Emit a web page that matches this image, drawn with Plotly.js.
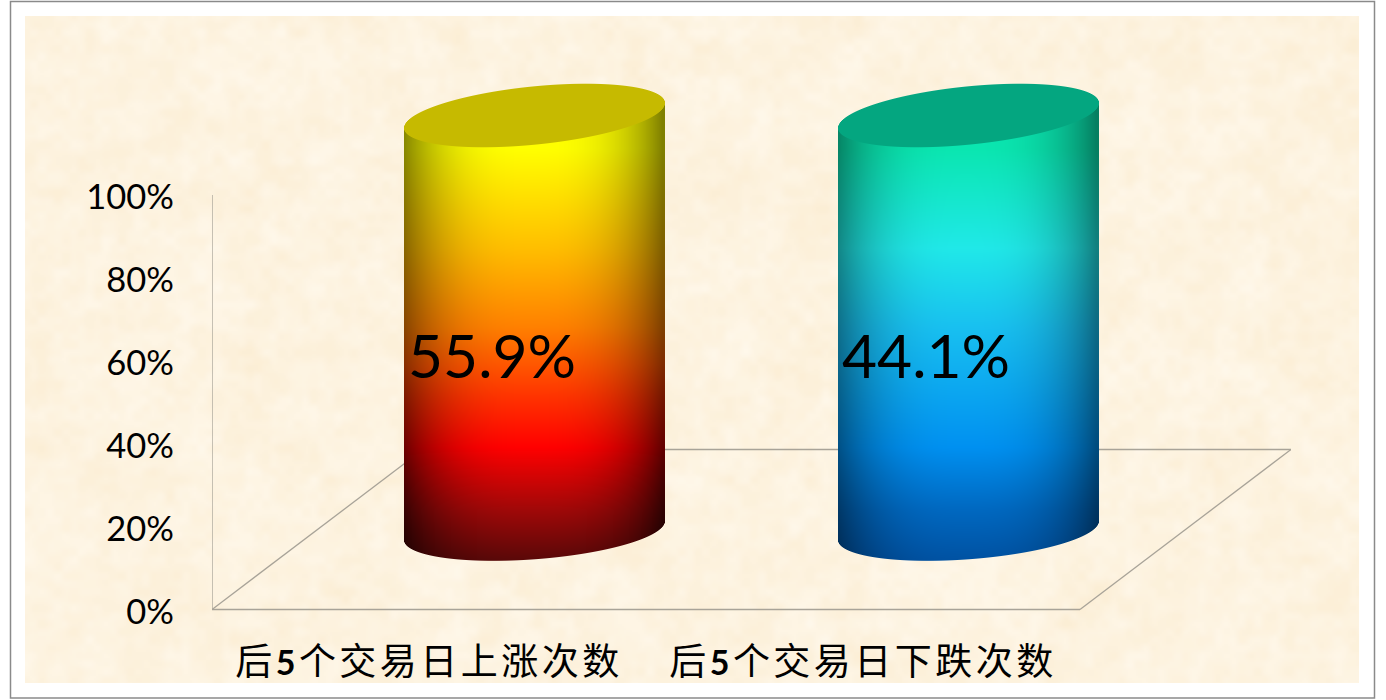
<!DOCTYPE html>
<html>
<head>
<meta charset="utf-8">
<script src="https://cdn.plot.ly/plotly-3.0.1.min.js"></script>
<style>
html,body{margin:0;padding:0;background:#fff;}
#chart{width:1386px;height:700px;}
.xtick text{letter-spacing:3.5px;}
</style>
</head>
<body>
<div id="chart"></div>
<script>
// ---- chart data ----
const categories = ['后<span style="font-weight:bold;font-size:34px">5</span>个交易日上涨次数', '后<span style="font-weight:bold;font-size:34px">5</span>个交易日下跌次数'];
const shares = [55.9, 44.1];
const cylinderHeights = [100, 100];
const valueTicks = [0, 20, 40, 60, 80, 100];

const cylinderStops = [
  [[0.08,[255,255,0]],[0.32,[255,190,0]],[0.51,[255,128,0]],[0.68,[255,50,0]],[0.80,[255,0,0]],[0.95,[160,8,8]],[1.08,[85,8,8]]],
  [[0.08,[10,230,176]],[0.32,[32,232,232]],[0.51,[24,192,240]],[0.80,[0,144,240]],[0.95,[0,104,192]],[1.08,[0,80,160]]]
];
const capColours = [[198,186,0],[4,166,128]];
const edgeDepth = [[0.5, 0.72], [0.45, 0.5]];

// ---- plot geometry ----
const W = 1386, H = 700, mL = 212, mR = 95, mB = 88;
const pxPerCat = 434, pxPerPct = 4.15;
const xRange = [-0.5, -0.5 + (W - mL - mR) / pxPerCat];
const yRange = [0, (H - mB) / pxPerPct];
const floorDepthCat = 211 / pxPerCat, floorDepthPct = 160 / pxPerPct;
const floorLevel = 0.6;
const cylOffsetCat = floorDepthCat / 2, cylBasePct = 19.64;
const cylHalfCat = 130.5 / pxPerCat;

function lerpStops(stops, w){
  if (w <= stops[0][0]) return stops[0][1];
  for (let i = 1; i < stops.length; i++){
    if (w <= stops[i][0]){
      const a = stops[i-1], b = stops[i], t = (w - a[0]) / (b[0] - a[0]);
      return a[1].map((c, k) => c + (b[1][k] - c) * t);
    }
  }
  return stops[stops.length-1][1];
}
const clamp01 = v => Math.max(0, Math.min(1, v));

function cylinderTrace(idx){
  const cxPct = idx + cylOffsetCat;
  const dxU = 1 / pxPerCat, dyU = 1 / pxPerPct;
  const a = cylHalfCat * pxPerCat;
  const basePx = (yRange[1] - cylBasePct) * pxPerPct;
  const topPx = (yRange[1] - cylBasePct - cylinderHeights[idx]) * pxPerPct;
  const cxPx = (cxPct - xRange[0]) * pxPerCat + mL;
  const x0Px = Math.floor(cxPx - a) - 1, x1Px = Math.ceil(cxPx + a) + 1;
  const y0Px = Math.floor(topPx - 36), y1Px = Math.ceil(basePx + 36);
  const z = [];
  for (let py = y1Px; py >= y0Px; py--){   // first row = lowest on screen
    const row = [];
    for (let px = x0Px; px <= x1Px; px++){
      const xc = px + 0.5, yc = py + 0.5;
      const u = (xc - cxPx) / a;
      const xAlpha = clamp01(a - Math.abs(xc - cxPx) + 0.5);
      if (xAlpha <= 0){ row.push([0,0,0,0]); continue; }
      const uc = Math.max(-1, Math.min(1, u));
      const s = Math.sqrt(1 - uc * uc);
      const capTop = topPx - 12.5 * uc - 29.2 * s;
      const capFront = topPx - 12.5 * uc + 29.2 * s;
      const bottom = basePx - 9.5 * uc + 28.8 * s;
      const alpha = xAlpha * clamp01(yc - capTop + 0.5) * clamp01(bottom - yc + 0.5);
      if (alpha <= 0){ row.push([0,0,0,0]); continue; }
      const w = (yc - topPx) / (basePx - topPx);
      const base = lerpStops(cylinderStops[idx], w);
      const uu = Math.abs(u + 0.02);
      const depth = edgeDepth[idx][0] + (edgeDepth[idx][1] - edgeDepth[idx][0]) * clamp01((w - 0.6) / 0.4);
      const f = 1 - depth * Math.pow(Math.min(1, uu), 2.8);
      const side = base.map(c => c * f);
      const capMix = clamp01(capFront - yc + 0.5);
      const col = capColours[idx].map((c, k) => Math.round(c * capMix + side[k] * (1 - capMix)));
      row.push([col[0], col[1], col[2], alpha]);
    }
    z.push(row);
  }
  return {
    type: 'image', colormodel: 'rgba', z: z,
    x0: xRange[0] + (x0Px + 0.5 - mL) * dxU, dx: dxU,
    y0: (H - mB - (y1Px + 0.5)) * dyU, dy: dyU,
    hoverinfo: 'skip'
  };
}

// parchment texture (deterministic smooth value noise)
function parchment(){
  const w = 667, h = 334;
  const c = document.createElement('canvas'); c.width = w; c.height = h;
  const ctx = c.getContext('2d');
  const img = ctx.createImageData(w, h);
  const hash = (i, j) => { const s = Math.sin(i * 127.1 + j * 311.7) * 43758.5453; return s - Math.floor(s); };
  const sm = t => t * t * (3 - 2 * t);
  const noise = (x, y) => {
    const i = Math.floor(x), j = Math.floor(y), fx = sm(x - i), fy = sm(y - j);
    const a = hash(i, j), b = hash(i + 1, j), d = hash(i, j + 1), e = hash(i + 1, j + 1);
    return a + (b - a) * fx + (d - a) * fy + (a - b - d + e) * fx * fy;
  };
  for (let y = 0; y < h; y++){
    for (let x = 0; x < w; x++){
      const n = 0.3 * noise(x / 18, y / 18) + 0.4 * noise(x / 8 + 40, y / 8 + 17) + 0.3 * noise(x / 4 + 7, y / 4 + 91);
      const d = (n - 0.5) * 2;
      const k = (y * w + x) * 4;
      img.data[k] = 253 + d * 2;
      img.data[k + 1] = 243 + d * 6;
      img.data[k + 2] = 224 + d * 13;
      img.data[k + 3] = 255;
    }
  }
  ctx.putImageData(img, 0, 0);
  return c.toDataURL('image/png');
}

const plotW = W - mL - mR, plotH = H - mB;
const pxX = px => (px - mL) / plotW;
const pxY = py => 1 - py / plotH;
const lineStyle = {color: '#a8a398', width: 1.3};
const floorLine = (x0, y0, x1, y1) => ({type: 'line', xref: 'x', yref: 'y', x0, y0, x1, y1, line: lineStyle, layer: 'below'});

const shapes = [
  {type: 'rect', xref: 'paper', yref: 'paper', x0: pxX(10.5), x1: pxX(1374.5), y0: pxY(1.5), y1: pxY(698), line: {color: '#8a8a8a', width: 1.5}, fillcolor: 'rgba(0,0,0,0)', layer: 'below'},
  floorLine(xRange[0], floorLevel, xRange[0], 100.5),
  floorLine(xRange[0], floorLevel, 1.5, floorLevel),
  floorLine(1.5, floorLevel, 1.5 + floorDepthCat, floorLevel + floorDepthPct),
  floorLine(xRange[0], floorLevel, xRange[0] + floorDepthCat, floorLevel + floorDepthPct),
  floorLine(xRange[0] + floorDepthCat, floorLevel + floorDepthPct, 1.5 + floorDepthCat, floorLevel + floorDepthPct)
];

const labelNudgeCat = 4 / pxPerCat;
const labelTrace = {
  type: 'scatter', mode: 'text',
  x: categories.map((c, i) => i + cylOffsetCat - cylHalfCat + labelNudgeCat),
  y: categories.map(() => 60.0),
  text: shares.map(v => v.toFixed(1) + '%'),
  textposition: 'middle right',
  textfont: {family: 'Lato, "Noto Sans CJK SC", sans-serif', size: 60.5, color: '#000'},
  cliponaxis: false, hoverinfo: 'skip', showlegend: false
};

const fontFamily = 'Lato, "Noto Sans CJK SC", sans-serif';
Plotly.newPlot('chart', [cylinderTrace(0), cylinderTrace(1), labelTrace], {
  width: W, height: H,
  margin: {l: mL, r: mR, t: 0, b: mB, pad: 0},
  paper_bgcolor: '#ffffff', plot_bgcolor: 'rgba(0,0,0,0)',
  showlegend: false,
  xaxis: {
    range: xRange, tickmode: 'array', tickvals: categories.map((c, i) => i), ticktext: categories,
    showgrid: false, zeroline: false, showline: false, ticks: '', ticklabelstandoff: 25,
    tickangle: 0, tickfont: {family: fontFamily, size: 37, color: '#000'}
  },
  yaxis: {
    range: yRange, scaleanchor: false, tickmode: 'array', tickvals: valueTicks, ticktext: valueTicks.map(v => v + '%'),
    showgrid: false, zeroline: false, showline: false, ticks: '', ticklabelstandoff: 37,
    tickfont: {family: fontFamily, size: 34.5, color: '#000'}
  },
  shapes: shapes,
  images: [{
    source: parchment(), xref: 'paper', yref: 'paper',
    x: pxX(25), y: pxY(16), sizex: 1334 / plotW, sizey: 667 / plotH,
    xanchor: 'left', yanchor: 'top', sizing: 'stretch', layer: 'below'
  }]
}, {displayModeBar: false, staticPlot: true});
</script>
</body>
</html>
